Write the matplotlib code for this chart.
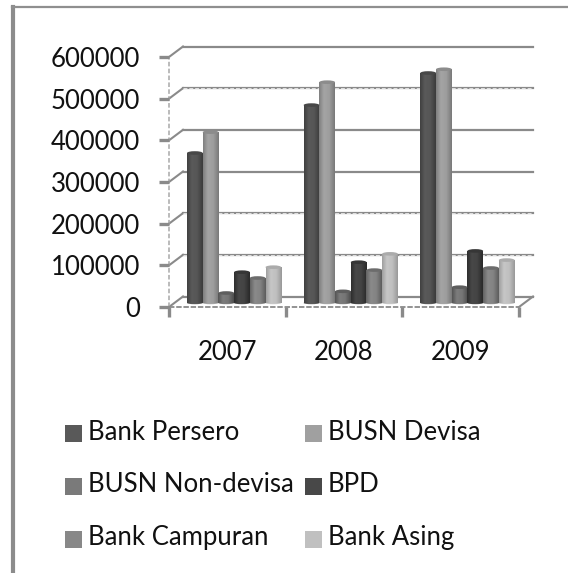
"""Grey pseudo-3D clustered bars: bank groups 2007-2009."""

import matplotlib.pyplot as plt
import numpy as np
from matplotlib.colors import LinearSegmentedColormap
from matplotlib.lines import Line2D
from matplotlib.patches import Ellipse, Rectangle

years = ["2007", "2008", "2009"]
y_ticks = [0, 100000, 200000, 300000, 400000, 500000, 600000]
names = ["Bank Persero", "BUSN Devisa", "BUSN Non-devisa", "BPD", "Bank Campuran", "Bank Asing"]

bank_persero = [360000, 475000, 552000]
busn_devisa = [410000, 530000, 561000]
busn_non_devisa = [24000, 28000, 38000]
bpd = [74000, 98000, 125000]
bank_campuran = [60000, 79000, 84000]
bank_asing = [86000, 118000, 103000]
series = [bank_persero, busn_devisa, busn_non_devisa, bpd, bank_campuran, bank_asing]

# dark edge / mid / top rim of each cylinder
shades = [
    ("#3c3c3c", "#5a5a5a", "#484848"),
    ("#7a7a7a", "#a4a4a4", "#8c8c8c"),
    ("#4e4e4e", "#7c7c7c", "#5e5e5e"),
    ("#2a2a2a", "#484848", "#363636"),
    ("#5e5e5e", "#8a8a8a", "#6c6c6c"),
    ("#9a9a9a", "#c6c6c6", "#ababab"),
]
legend_cols = ["#595959", "#a0a0a0", "#7a7a7a", "#484848", "#888888", "#c0c0c0"]

W, H = 568, 573
LEFT, RIGHT, TOP, BOTTOM = 169, 519, 57, 307
GRID = "#8a8a8a"
FS = 18.5

plt.rcParams["font.family"] = ["Lato", "DejaVu Sans"]
fig = plt.figure(figsize=(W / 100, H / 100), dpi=100)
ax = fig.add_axes([LEFT / W, 1 - BOTTOM / H, (RIGHT - LEFT) / W, (BOTTOM - TOP) / H])
ax.patch.set_alpha(0)
for s in ax.spines.values():
    s.set_visible(False)

px_x = 3 / (RIGHT - LEFT)
px_y = 600000 / (BOTTOM - TOP)
dx, dy = 14 * px_x, 10.5 * px_y

# back wall gridlines and the wall slant
dashed = {100000, 200000, 500000}
for v in y_ticks:
    ax.plot([dx, 3 + dx], [v + dy, v + dy], color=GRID, lw=1.6, clip_on=False, zorder=1)
    ax.plot([0, dx], [v, v + dy], color=GRID, lw=1.5, clip_on=False, zorder=1)
    if v in dashed:
        ax.plot([dx, 3 + dx], [v + dy, v + dy], color="#e0e0e0", lw=0.7, ls=(0, (4, 2)),
                clip_on=False, zorder=1.1)
ax.plot([3, 3 + dx], [0, dy], color=GRID, lw=1.5, clip_on=False, zorder=1)
ax.plot([0, 0], [0, 600000], color="#a8a8a8", lw=1.1, ls=(0, (3, 1.5)), clip_on=False, zorder=1)
ax.plot([0, 3], [0, 0], color=GRID, lw=1.3, ls=(0, (3, 1)), clip_on=False, zorder=1)

# cylinders
bar_w = 15.7 * px_x
base = 4 * px_y
start = 18 * px_x
ramp = np.interp(np.linspace(0, 1, 32), [0, 0.3, 0.65, 1], [0.15, 1, 0.85, 0])
for i, vals in enumerate(series):
    edge, mid, rim = shades[i]
    cmap = LinearSegmentedColormap.from_list("c", [edge, mid])
    for g, v in enumerate(vals):
        x0 = g + start + i * bar_w
        ax.bar(x0, v, bar_w, bottom=base, align="edge", color=mid, lw=0, clip_on=False, zorder=3)
        im = ax.imshow(ramp[None, :], extent=(x0, x0 + bar_w, base, base + v), cmap=cmap,
                       vmin=0, vmax=1, aspect="auto", zorder=3.1)
        im.set_clip_path(Rectangle((x0, base), bar_w, v, transform=ax.transData))
        ax.add_patch(Ellipse((x0 + bar_w / 2, base + v), bar_w, 3.6 * px_y, color=rim, lw=0,
                             clip_on=False, zorder=3.2))
        ax.add_patch(Ellipse((x0 + bar_w / 2, base), bar_w, 2.4 * px_y, color=mid, lw=0,
                             clip_on=False, zorder=2.9))
ax.set_xlim(0, 3)
ax.set_ylim(0, 600000)

# axes ticks
ax.set_yticks(y_ticks)
ax.set_yticklabels([str(v) for v in y_ticks])
ax.set_xticks([0, 1, 2, 3])
ax.set_xticklabels([])
ax.tick_params(axis="y", length=7, width=2.4, color=GRID, labelsize=FS, pad=14, labelcolor="#111111")
ax.tick_params(axis="x", length=7, width=2.4, color=GRID)

for g, year in enumerate(years):
    ax.text(g + 0.5, -45 * px_y, year, ha="center", va="center", fontsize=FS, color="#111111")

# legend, placed by hand on the figure
leg_x = [65, 305]
leg_y = [432, 485, 538]
for i, name in enumerate(names):
    col, row = i % 2, i // 2
    fig.add_artist(Rectangle((leg_x[col] / W, 1 - (leg_y[row] + 10) / H), 17 / W, 17 / H,
                             color=legend_cols[i], lw=0, transform=fig.transFigure))
    fig.text((leg_x[col] + 23) / W, 1 - leg_y[row] / H, name, ha="left", va="center",
             fontsize=FS, color="#111111")

# outer frame
fig.add_artist(Line2D([13 / W, 13 / W], [0, 1 - 7 / H], color="#8c8c8c", lw=3.0))
fig.add_artist(Line2D([12 / W, 1], [1 - 7 / H, 1 - 7 / H], color="#8f8f8f", lw=1.6))

fig.savefig("out.png", dpi=100)
